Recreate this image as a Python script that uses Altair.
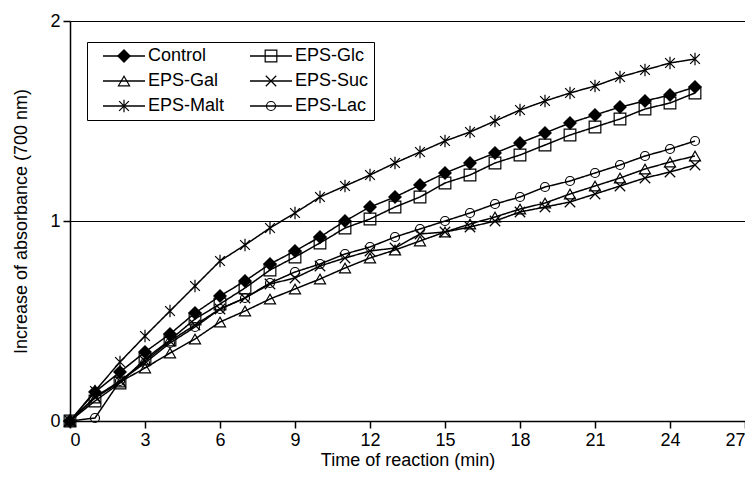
import altair as alt
import pandas as pd

time_min = list(range(26))
series_names = ["Control", "EPS-Glc", "EPS-Gal", "EPS-Suc", "EPS-Malt", "EPS-Lac"]

control = [0, 0.145, 0.245, 0.345, 0.435, 0.54, 0.625, 0.70, 0.785, 0.85, 0.92, 1.0, 1.07,
           1.12, 1.18, 1.24, 1.29, 1.34, 1.39, 1.44, 1.49, 1.53, 1.57, 1.60, 1.63, 1.67]
eps_glc = [0, 0.10, 0.19, 0.31, 0.405, 0.51, 0.585, 0.665, 0.755, 0.82, 0.89, 0.965, 1.01,
           1.07, 1.12, 1.19, 1.23, 1.29, 1.33, 1.38, 1.43, 1.47, 1.51, 1.56, 1.59, 1.64]
eps_gal = [0, 0.115, 0.195, 0.265, 0.34, 0.41, 0.495, 0.55, 0.61, 0.66, 0.71, 0.765, 0.815,
           0.855, 0.90, 0.945, 0.985, 1.02, 1.06, 1.09, 1.135, 1.175, 1.215, 1.26, 1.295, 1.325]
eps_suc = [0, 0.12, 0.20, 0.30, 0.40, 0.48, 0.56, 0.615, 0.685, 0.715, 0.775, 0.815, 0.85,
           0.865, 0.935, 0.945, 0.97, 1.00, 1.045, 1.07, 1.095, 1.135, 1.175, 1.215, 1.245, 1.28]
eps_malt = [0, 0.15, 0.295, 0.425, 0.55, 0.675, 0.80, 0.88, 0.965, 1.04, 1.12, 1.175, 1.23,
            1.29, 1.345, 1.40, 1.445, 1.50, 1.555, 1.60, 1.64, 1.675, 1.72, 1.755, 1.79, 1.81]
eps_lac = [0, 0.015, 0.20, 0.29, 0.39, 0.47, 0.56, 0.615, 0.69, 0.745, 0.785, 0.835, 0.87,
           0.92, 0.96, 1.0, 1.04, 1.085, 1.12, 1.17, 1.20, 1.24, 1.28, 1.325, 1.36, 1.40]

x_ticks = [0, 3, 6, 9, 12, 15, 18, 21, 24, 27]
y_ticks = [0, 1, 2]

records = []
for name, vals in zip(series_names, [control, eps_glc, eps_gal, eps_suc, eps_malt, eps_lac]):
    for t, v in zip(time_min, vals):
        records.append({"time": t, "absorbance": v, "series": name, "series_line": name})
df = pd.DataFrame(records)

shapes = ["diamond", "square", "triangle-up",
          "M-1,-1L1,1M-1,1L1,-1",
          "M-1,-1L1,1M-1,1L1,-1M0,-1.3L0,1.3",
          "circle"]
fills = ["black", "transparent", "transparent", "transparent", "transparent", "transparent"]
strokes = ["black"] * 6
sizes = [150, 81, 81, 121, 169, 100]

FONT = "Liberation Sans"

x_enc = alt.X("time:Q", scale=alt.Scale(domain=[0, 27], nice=False),
              axis=alt.Axis(values=x_ticks, title="Time of reaction (min)", grid=False,
                            titlePadding=2, labelPadding=3, format="d"))
y_enc = alt.Y("absorbance:Q", scale=alt.Scale(domain=[0, 2], nice=False),
              axis=alt.Axis(values=y_ticks, title="Increase of absorbance (700 nm)", grid=True,
                            titlePadding=19, labelPadding=3, labelExpr="'' + datum.value",
                            labelOverlap=False, gridOpacity=1))

line_legend = alt.Legend(
    orient="none", legendX=17, legendY=21, columns=2, direction="horizontal", title=None,
    padding=5, symbolType="stroke", symbolSize=1764, symbolStrokeWidth=1.5,
    symbolStrokeColor="black", symbolOffset=10, labelOffset=2, clipHeight=18,
    columnPadding=14, rowPadding=7, strokeColor="black", labelFont=FONT,
    labelFontSize=18, labelColor="black")

shape_legend = alt.Legend(
    orient="none", legendX=17, legendY=21, columns=2, direction="horizontal", title=None,
    padding=5, symbolStrokeWidth=1.2, symbolStrokeColor="black", symbolOffset=23,
    labelOffset=15, clipHeight=18, columnPadding=14, rowPadding=7, labelFont=FONT,
    labelFontSize=18, labelOpacity=0)

lines = alt.Chart(df).mark_line(color="black", strokeWidth=1.5).encode(
    x=x_enc, y=y_enc,
    strokeDash=alt.StrokeDash("series_line:N", sort=series_names,
                              scale=alt.Scale(range=[[1, 0]] * 6), legend=line_legend),
)

points = alt.Chart(df).mark_point(filled=False, opacity=1, strokeWidth=1.2).encode(
    x=x_enc, y=y_enc,
    shape=alt.Shape("series:N", scale=alt.Scale(domain=series_names, range=shapes), legend=shape_legend),
    fill=alt.Fill("series:N", scale=alt.Scale(domain=series_names, range=fills), legend=shape_legend),
    stroke=alt.Stroke("series:N", scale=alt.Scale(domain=series_names, range=strokes), legend=shape_legend),
    size=alt.Size("series:N", scale=alt.Scale(domain=series_names, range=sizes), legend=shape_legend),
)

chart = alt.layer(lines, points).properties(
    width=675, height=400,
    autosize=alt.AutoSizeParams(type="none"),
    padding={"left": 62, "top": 13, "right": 0, "bottom": 49},
).configure(font=FONT).configure_view(stroke=None).configure_axis(
    domainColor="black", domainWidth=1.5, tickColor="black", tickWidth=1.5, tickSize=7,
    labelFontSize=18, labelColor="black", titleFontSize=18, titleFontWeight="normal",
    titleColor="black", gridColor="black", gridWidth=1.2, labelFont=FONT, titleFont=FONT,
)

chart.save("out.html", embed_options={"renderer": "svg", "actions": False})
